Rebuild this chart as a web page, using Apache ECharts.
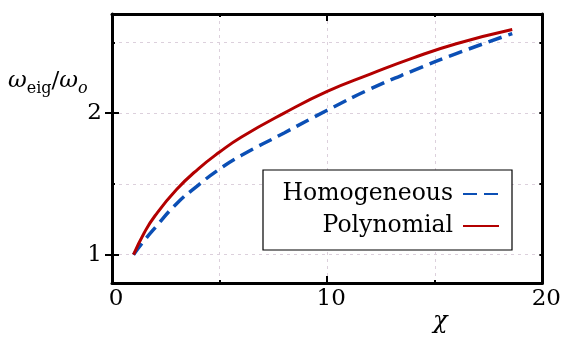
<!DOCTYPE html>
<html><head><meta charset="utf-8">
<script src="https://cdn.jsdelivr.net/npm/echarts@6/dist/echarts.min.js"></script>
<style>html,body{margin:0;padding:0;background:#fff}#c{width:564px;height:338px}</style>
</head><body><div id="c"></div>
<script>
const chi = [1, 1.5, 2, 3, 4, 5, 6, 8, 10, 12, 14, 16, 18.6];
const homogeneous = [1, 1.10, 1.19, 1.36, 1.49, 1.605, 1.70, 1.86, 2.02, 2.17, 2.30, 2.42, 2.562];
const polynomial = [1, 1.155, 1.275, 1.46, 1.605, 1.725, 1.83, 2.00, 2.153, 2.275, 2.39, 2.49, 2.59];
const xLabels = [0, 10, 20];
const yLabels = [1, 2];
const yGrid = [1, 1.5, 2, 2.5];
const seriesNames = ['Homogeneous', 'Polynomial'];

const FONT = 'DejaVu Serif';
const chart = echarts.init(document.getElementById('c'), null, {renderer: 'canvas'});
const gridLine = {show: true, lineStyle: {color: '#dcd0dc', width: 1, type: [3, 4]}};
const blackLine = {show: true, onZero: false, lineStyle: {color: '#000', width: 3}};
function xa(pos, interval, len, opts) {
  return Object.assign({
    type: 'value', position: pos, min: 0, max: 20, interval: interval,
    axisLine: {show: false},
    axisTick: {show: true, inside: true, length: len, lineStyle: {color: '#000', width: 2}},
    axisLabel: {show: false}, splitLine: {show: false}
  }, opts || {});
}
function ya(pos, ticks, len, opts) {
  return Object.assign({
    type: 'value', position: pos, min: 0.8, max: 2.7,
    axisLine: {show: false},
    axisTick: {show: true, inside: true, length: len, customValues: ticks, lineStyle: {color: '#000', width: 2}},
    axisLabel: {show: false}, splitLine: {show: false}
  }, opts || {});
}
const option = {
  animation: false,
  backgroundColor: '#fff',
  grid: {left: 112, right: 20, top: 14, bottom: 55},
  xAxis: [
    xa('bottom', 5, 3, {axisLine: blackLine, splitLine: gridLine,
      axisLabel: {show: true, customValues: xLabels, color: '#000', fontFamily: FONT, fontSize: 23, margin: 5, padding: [0, 0, 0, 8]}}),
    xa('bottom', 10, 7),
    xa('top', 5, 3, {axisLine: blackLine}),
    xa('top', 10, 7)
  ],
  yAxis: [
    ya('left', yGrid, 3, {axisLine: blackLine, splitLine: gridLine,
      axisLabel: {show: true, customValues: yLabels, color: '#000', fontFamily: FONT, fontSize: 23, margin: 10}}),
    ya('left', yLabels, 7),
    ya('right', yGrid, 3, {axisLine: blackLine}),
    ya('right', yLabels, 7)
  ],
  legend: {
    orient: 'vertical', align: 'right', left: 263, top: 170,
    itemWidth: 36, itemHeight: 14, itemGap: 6,
    padding: [11, 12, 11, 12],
    backgroundColor: '#fff', borderColor: '#000', borderWidth: 1.2,
    itemStyle: {opacity: 0, borderWidth: 0, color: 'transparent'},
    textStyle: {fontFamily: FONT, fontSize: 23.5, color: '#000', width: 178, align: 'right', lineHeight: 26, padding: [0, 5, 0, 0]},
    data: seriesNames
  },
  graphic: [
    {type: 'text', left: 8, top: 70, style: {
      text: '{w|ω}{s|eig}{m|/}{w|ω}{o|o}',
      rich: {
        w: {fontFamily: FONT, fontSize: 23, fontStyle: 'italic', lineHeight: 30, verticalAlign: 'middle', fill: '#000'},
        m: {fontFamily: FONT, fontSize: 23, lineHeight: 30, verticalAlign: 'middle', fill: '#000'},
        s: {fontFamily: FONT, fontSize: 16, lineHeight: 16, verticalAlign: 'bottom', fill: '#000'},
        o: {fontFamily: FONT, fontSize: 16, fontStyle: 'italic', lineHeight: 16, verticalAlign: 'bottom', fill: '#000'}
      }}},
    {type: 'text', left: 433, top: 310, style: {text: 'χ', fontFamily: FONT, fontSize: 24, fontStyle: 'italic', fill: '#000'}}
  ],
  series: [
    {name: seriesNames[0], type: 'line', smooth: 0.5, symbol: 'none', z: 3,
     lineStyle: {color: '#0b4fb5', width: 3.5, type: [14, 7]}, itemStyle: {color: '#0b4fb5'},
     data: chi.map((c, i) => [c, homogeneous[i]])},
    {name: seriesNames[1], type: 'line', smooth: 0.5, symbol: 'none', z: 4,
     lineStyle: {color: '#b30000', width: 3}, itemStyle: {color: '#b30000'},
     data: chi.map((c, i) => [c, polynomial[i]])}
  ]
};
chart.setOption(option);
</script></body></html>
